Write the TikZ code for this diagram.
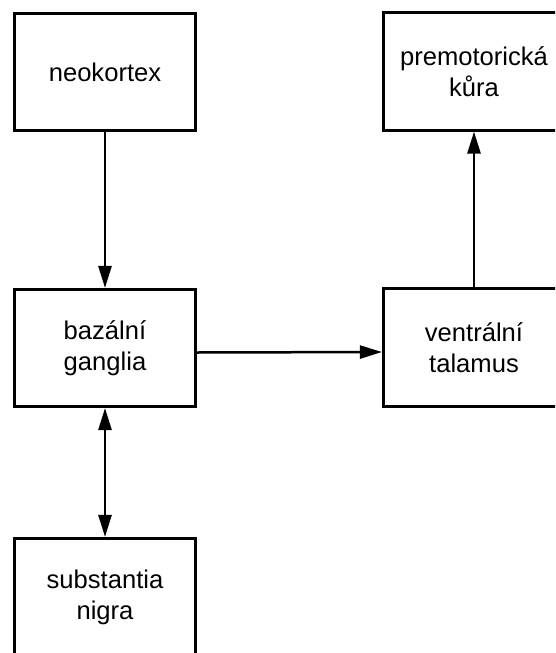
\documentclass[tikz,border=0pt]{standalone}
\usepackage{fontspec}
\setmainfont{Liberation Sans}
\usetikzlibrary{arrows.meta}
\begin{document}
\begin{tikzpicture}[x=1pt,y=-1pt,
  box/.style={draw, line width=2.6pt, minimum width=181.5pt, minimum height=117.5pt,
    align=center, inner sep=0pt, font=\fontsize{25.6}{31}\selectfont},
  arr/.style={line width=2.5pt, -{Triangle[length=22pt,width=13pt]}},
  darr/.style={line width=2.5pt, {Triangle[length=22pt,width=13pt]}-{Triangle[length=22pt,width=13pt]}}
]
\useasboundingbox (0,0) rectangle (555,653);
\clip (0,0) rectangle (555,653);
\node[box] (neo) at (105,72) {neokortex};
\node[box] (pre) at (474,71.5) {premotorická\\kůra};
\node[box] (baz) at (105,348) {bazální\\ganglia};
\node[box] (ven) at (474,347.5) {ventrální\\talamus};
\node[box] (sub) at (105,597) {substantia\\nigra};
\draw[arr] (neo) -- (baz);
\draw[arr] ([yshift=-4.5pt]baz.east) -- ([yshift=-4.5pt]ven.west);
\draw[arr] (ven) -- (pre);
\draw[darr] (baz) -- (sub);
\end{tikzpicture}
\end{document}
